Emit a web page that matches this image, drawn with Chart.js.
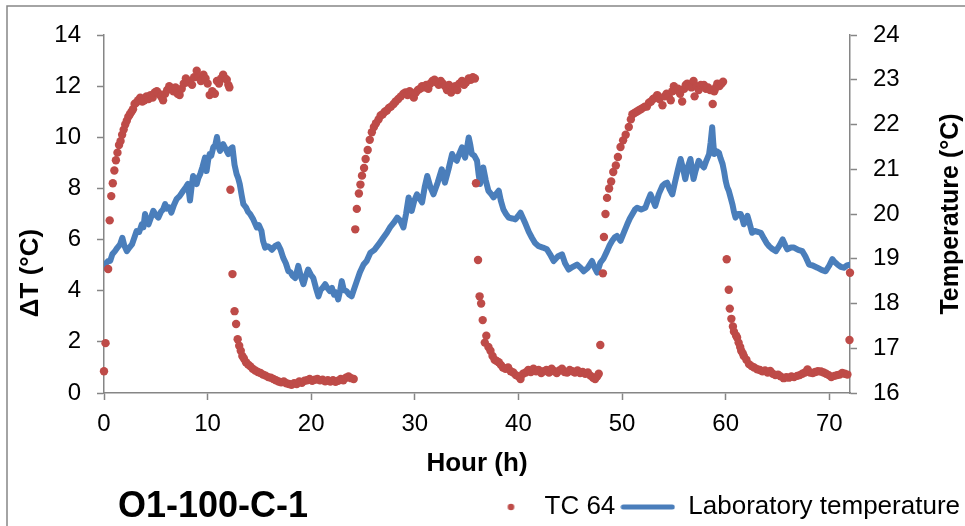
<!DOCTYPE html>
<html>
<head>
<meta charset="utf-8">
<script src="https://cdn.jsdelivr.net/npm/chart.js@4.4.1/dist/chart.umd.min.js"></script>
<style>
  html, body { margin: 0; padding: 0; background: #fff; }
  canvas { display: block; }
</style>
</head>
<body>
<canvas id="tcChart" width="965" height="526"></canvas>
<script>
// TC 64 readings [hour, dT] - one list per heating/cooling cycle
const tcCycle1 = [
  [0.0,0.85],[0.15,1.95],[0.4,4.85],[0.55,6.75],[0.7,7.7],[0.85,8.2],[1.0,8.7],[1.15,9.1],[1.3,9.4],[1.45,9.7],
  [1.6,9.85],[1.75,10.1],[1.9,10.3],[2.05,10.5],[2.2,10.65],[2.35,10.8],[2.5,10.9],[2.65,11.0],[2.8,11.1],[2.95,11.3],
  [3.1,11.35],[3.3,11.45],[3.5,11.55],[3.7,11.4],[3.9,11.45],[4.1,11.6],[4.3,11.5],[4.5,11.65],[4.7,11.55],[4.9,11.75],
  [5.1,11.8],[5.3,11.7],[5.5,11.6],[5.7,11.45],[5.9,11.7],[6.1,11.85],[6.3,12.0],[6.5,11.9],[6.7,11.8],[6.9,11.95],
  [7.1,11.7],[7.3,11.65],[7.5,11.9],[7.7,12.1],[7.9,12.3],[8.1,12.15],[8.3,12.2],[8.5,12.05],[8.7,12.35],[8.95,12.6],
  [9.15,12.35],[9.35,12.2],[9.6,12.45],[9.8,12.3],[10.0,12.1],[10.2,11.65],[10.45,11.8],[10.7,11.7],[10.9,12.2],[11.1,12.1],
  [11.3,12.3],[11.5,12.45],[11.7,12.3],[11.85,12.25],[12.0,12.05],[12.1,11.95],
  [12.2,7.95],[12.4,4.65],[12.6,3.2],[12.75,2.7],[12.9,2.1],[13.05,1.85],[13.2,1.65],[13.35,1.45],[13.5,1.35],[13.7,1.2],
  [13.9,1.12],[14.1,1.05],[14.35,0.95],[14.6,0.88],[14.85,0.82],[15.1,0.78],[15.35,0.72],[15.6,0.68],[15.85,0.62],[16.1,0.6],
  [16.35,0.55],[16.6,0.5],[16.85,0.45],[17.1,0.42],[17.35,0.45],[17.6,0.38],[17.85,0.35],[18.1,0.32],[18.35,0.38],[18.6,0.35],
  [18.85,0.45],[19.1,0.4],[19.35,0.48],[19.6,0.5],[19.85,0.55],[20.1,0.48],[20.35,0.52],[20.6,0.55],[20.85,0.5],[21.1,0.52],
  [21.35,0.46],[21.6,0.5],[21.85,0.45],[22.1,0.5],[22.35,0.44],[22.6,0.48],[22.85,0.55],[23.1,0.5],[23.35,0.6],[23.6,0.65],
  [23.85,0.58],[24.1,0.55]
];
const tcCycle2 = [
  [24.25,6.4],[24.4,7.2],[24.6,7.8],[24.75,8.15],[24.9,8.5],[25.1,8.8],[25.25,9.15],[25.45,9.5],[25.65,9.9],[25.85,10.2],
  [26.05,10.4],[26.25,10.55],[26.5,10.7],[26.7,10.85],[26.9,10.9],[27.1,11.0],[27.3,11.05],[27.5,11.15],[27.7,11.2],[27.95,11.3],
  [28.15,11.4],[28.4,11.5],[28.65,11.6],[28.9,11.7],[29.1,11.75],[29.3,11.65],[29.5,11.8],[29.7,11.7],[29.9,11.55],[30.1,11.75],
  [30.3,11.85],[30.5,11.9],[30.7,12.0],[30.9,11.95],[31.1,12.05],[31.3,11.9],[31.5,12.1],[31.7,12.2],[31.9,12.25],[32.1,12.15],
  [32.3,12.05],[32.5,12.2],[32.7,12.1],[32.9,12.0],[33.1,11.85],[33.3,12.05],[33.5,11.75],[33.7,11.9],[33.9,12.0],[34.1,11.85],
  [34.3,12.1],[34.55,12.2],[34.75,12.05],[34.95,12.15],[35.2,12.3],[35.4,12.25],[35.6,12.35],[35.8,12.3],
  [35.9,8.2],[36.1,5.2],[36.25,3.78],[36.4,3.5],[36.55,2.85],[36.75,1.97],[36.9,2.24],[37.1,1.8],[37.3,1.65],[37.5,1.45],
  [37.7,1.3],[37.9,1.25],[38.1,1.2],[38.3,1.1],[38.5,1.0],[38.75,0.95],[39.0,1.0],[39.25,0.85],[39.5,0.8],[39.75,0.7],
  [40.0,0.65],[40.2,0.55],[40.45,0.75],[40.7,0.8],[40.95,0.9],[41.2,0.82],[41.45,0.95],[41.7,0.85],[41.95,0.9],[42.2,0.78],
  [42.45,0.85],[42.7,0.9],[42.95,0.8],[43.2,0.95],[43.45,0.85],[43.7,0.78],[43.95,0.88],[44.2,0.95],[44.45,0.82],[44.7,0.8],
  [44.95,0.9],[45.2,0.85],[45.45,0.8],[45.7,0.88],[45.95,0.78],[46.2,0.82],[46.45,0.75],[46.7,0.8],[46.95,0.68],[47.2,0.6],
  [47.4,0.55],[47.6,0.65],[47.75,0.75],[47.9,1.88]
];
const tcCycle3 = [
  [48.15,4.68],[48.25,6.1],[48.4,7.0],[48.55,7.63],[48.75,8.0],[48.95,8.27],[49.15,8.64],[49.4,8.9],[49.6,9.23],[49.85,9.62],
  [50.1,9.88],[50.35,10.1],[50.65,10.4],[50.85,10.7],[51.0,10.9],[51.2,10.95],[51.4,11.0],[51.6,11.05],[51.8,11.1],[52.0,11.15],
  [52.2,11.2],[52.4,11.2],[52.6,11.35],[52.8,11.4],[53.0,11.5],[53.2,11.55],[53.4,11.65],[53.6,11.5],[53.9,11.25],[54.1,11.6],
  [54.3,11.7],[54.5,11.6],[54.7,11.45],[54.85,11.8],[55.0,12.0],[55.2,11.85],[55.4,11.9],[55.6,11.7],[55.8,11.4],[56.0,11.9],
  [56.15,12.05],[56.3,12.1],[56.5,12.0],[56.7,11.95],[56.9,12.2],[57.0,11.6],[57.2,12.0],[57.4,11.85],[57.6,12.05],[57.9,12.05],
  [58.1,11.9],[58.3,11.95],[58.5,11.85],[58.75,11.3],[58.9,11.8],[59.05,11.95],[59.2,12.1],[59.4,12.0],[59.6,12.1],[59.75,12.17],
  [60.1,5.23],[60.3,4.04],[60.4,3.3],[60.55,2.9],[60.7,2.6],[60.8,2.4],[61.0,2.25],[61.1,2.17],[61.25,1.97],[61.4,1.8],
  [61.5,1.65],[61.65,1.55],[61.75,1.45],[62.0,1.3],[62.25,1.13],[62.5,1.05],[62.75,1.0],[63.05,0.93],[63.3,0.9],[63.55,0.85],
  [63.8,0.88],[64.05,0.8],[64.3,0.86],[64.55,0.75],[64.8,0.7],[65.05,0.72],[65.3,0.65],[65.6,0.58],[65.85,0.62],[66.1,0.6],
  [66.35,0.65],[66.6,0.62],[66.9,0.67],[67.15,0.7],[67.4,0.75],[67.65,0.8],[67.9,0.92],[68.15,0.8],[68.4,0.78],[68.65,0.82],
  [68.9,0.85],[69.2,0.84],[69.45,0.8],[69.7,0.75],[69.95,0.7],[70.2,0.62],[70.5,0.67],[70.75,0.7],[71.0,0.72],[71.25,0.78],
  [71.5,0.75],[71.75,0.72],[71.95,2.07],[72.0,4.7]
];

// laboratory temperature [hour, degC] - one list per day
const labDay1 = [
  [0.0,18.8],[0.2,18.9],[0.4,18.95],[0.6,18.95],[0.8,19.1],[1.06,19.17],[1.3,19.25],[1.55,19.32],[1.77,19.47],[1.95,19.3],
  [2.2,19.17],[2.45,19.25],[2.7,19.32],[2.9,19.45],[3.15,19.62],[3.4,19.6],[3.65,19.77],[3.8,19.7],[3.96,20.0],[4.1,19.85],
  [4.3,19.77],[4.5,19.9],[4.76,20.07],[5.0,19.98],[5.25,19.92],[5.5,20.05],[5.7,20.1],[5.9,20.22],[6.1,20.12],[6.3,20.15],
  [6.5,20.03],[6.75,20.2],[7.0,20.33],[7.3,20.4],[7.65,20.52],[7.9,20.6],[8.1,20.67],[8.3,20.3],[8.45,20.6],[8.6,20.85],
  [8.8,20.75],[8.95,20.67],[9.1,20.8],[9.3,20.9],[9.5,21.05],[9.75,21.26],[9.9,20.96],[10.05,21.2],[10.2,21.34],[10.35,21.3],
  [10.55,21.49],[10.75,21.55],[10.9,21.72],[11.05,21.5],[11.2,21.41],[11.35,21.5],[11.5,21.56],[11.75,21.45],[12.0,21.34],[12.2,21.45],
  [12.4,21.49],[12.6,21.1],[12.8,20.89],[12.95,20.8],[13.1,20.67],[13.3,20.4],[13.45,20.22],[13.7,20.15],[13.9,20.05],[14.1,20.0],
  [14.4,19.88],[14.75,19.7],[14.95,19.75],[15.2,19.62],[15.35,19.4],[15.55,19.25],[15.8,19.28],[16.0,19.25],[16.2,19.2],[16.5,19.28],
  [16.8,19.32],[17.05,19.2],[17.3,19.02],[17.55,18.9],[17.8,18.72],[18.0,18.7],[18.2,18.62],[18.45,18.57],[18.6,18.7],[18.75,18.84],
  [19.0,18.6],[19.25,18.43],[19.45,18.6],[19.7,18.76],[19.95,18.65],[20.2,18.57],[20.45,18.35],[20.7,18.16],[20.9,18.3],[21.1,18.35],
  [21.35,18.43],[21.55,18.35],[21.8,18.28],[22.0,18.35],[22.2,18.2],[22.4,18.25],[22.6,18.09],[22.8,18.3],[22.95,18.5],[23.15,18.3],
  [23.4,18.28],[23.65,18.2],[23.9,18.16],[24.1,18.3]
];
const labDay2 = [
  [24.4,18.5],[24.7,18.7],[25.05,18.87],[25.35,18.95],[25.7,19.13],[26.1,19.2],[26.5,19.32],[26.9,19.45],[27.3,19.58],[27.6,19.7],
  [27.95,19.8],[28.3,19.92],[28.6,19.85],[28.9,19.7],[29.15,20.0],[29.4,20.37],[29.55,20.2],[29.7,20.07],[29.95,20.3],[30.2,20.44],
  [30.45,20.35],[30.7,20.26],[30.95,20.6],[31.2,20.85],[31.5,20.6],[31.8,20.44],[32.2,20.7],[32.6,21.0],[32.75,20.85],[32.9,20.7],
  [33.25,21.0],[33.6,21.34],[33.8,21.25],[34.05,21.19],[34.3,21.35],[34.55,21.49],[34.7,21.35],[34.85,21.26],[35.05,21.5],[35.2,21.71],
  [35.35,21.55],[35.5,21.34],[35.75,21.3],[36.0,21.19],[36.15,20.9],[36.3,20.67],[36.45,20.85],[36.6,21.04],[36.85,20.75],[37.1,20.52],
  [37.35,20.45],[37.6,20.37],[37.85,20.45],[38.1,20.52],[38.3,20.3],[38.55,20.1],[38.8,20.0],[39.05,19.92],[39.4,19.9],[39.7,19.88],
  [39.95,19.95],[40.2,20.03],[40.45,19.9],[40.7,19.77],[41.0,19.6],[41.3,19.47],[41.6,19.35],[41.95,19.28],[42.35,19.25],[42.75,19.21],
  [43.05,19.1],[43.4,18.95],[43.8,19.05],[44.2,19.1],[44.5,18.9],[44.85,18.76],[45.25,18.82],[45.65,18.87],[46.0,18.8],[46.3,18.72],
  [46.7,18.8],[47.1,18.95],[47.35,18.8],[47.6,18.69],[47.9,18.91]
];
const labDay3 = [
  [48.2,19.0],[48.55,19.17],[48.8,19.3],[49.05,19.4],[49.3,19.48],[49.5,19.51],[49.7,19.45],[49.85,19.4],[50.2,19.6],[50.5,19.77],
  [50.75,19.9],[51.0,20.0],[51.25,20.1],[51.45,20.14],[51.85,20.1],[52.25,20.14],[52.5,20.3],[52.75,20.44],[53.0,20.3],[53.2,20.18],
  [53.55,20.45],[53.9,20.63],[54.15,20.68],[54.35,20.7],[54.6,20.55],[54.85,20.44],[55.1,20.7],[55.4,21.0],[55.65,21.23],[55.9,21.0],
  [56.1,20.78],[56.35,21.05],[56.6,21.23],[56.9,20.78],[57.1,20.97],[57.4,21.19],[57.65,21.1],[57.9,21.04],[58.15,21.2],[58.4,21.34],
  [58.55,21.6],[58.7,21.94],[58.8,21.6],[58.9,21.34],[59.15,21.4],[59.35,21.37],[59.5,21.25],[59.7,21.12],[59.85,20.95],[60.0,20.74],
  [60.15,20.6],[60.3,20.52],[60.5,20.35],[60.65,20.22],[60.8,20.05],[60.95,19.92],[61.2,20.0],[61.45,20.0],[61.6,19.9],[61.75,19.77],
  [61.9,19.85],[62.1,19.96],[62.3,19.8],[62.55,19.58],[62.8,19.62],[63.1,19.6],[63.4,19.58],[63.7,19.45],[63.95,19.35],[64.2,19.28],
  [64.5,19.22],[64.85,19.17],[65.2,19.3],[65.5,19.43],[65.75,19.3],[65.95,19.21],[66.3,19.25],[66.6,19.25],[67.0,19.2],[67.4,19.17],
  [67.7,19.05],[68.05,18.87],[68.4,18.85],[68.85,18.8],[69.25,18.75],[69.65,18.72],[70.0,18.85],[70.3,18.99],[70.55,18.92],[70.8,18.87],
  [71.1,18.82],[71.4,18.8],[71.7,18.85],[72.0,18.87]
];

const seriesNames = ["TC 64", "Laboratory temperature"];
const chartTitle = "O1-100-C-1";
const xTitle = "Hour (h)";
const yLeftTitle = "ΔT (°C)";
const yRightTitle = "Temperature (°C)";

const RED = "#be4b48";
const BLUE = "#4a7ebb";
const AXIS = "#868686";
const FONT = "'Liberation Sans', Arial, sans-serif";

Chart.defaults.font.family = FONT;
Chart.defaults.color = "#000";

const toXY = pairs => pairs.map(([x, y]) => ({ x, y }));

// legend markers: small dot and a thick line segment
function legendDot() {
    const c = document.createElement("canvas");
    c.width = 55; c.height = 10;
    const g = c.getContext("2d");
    g.fillStyle = RED;
    g.beginPath();
    g.arc(34.5, 5, 3.3, 0, Math.PI * 2);
    g.fill();
    return c;
}
function legendLine() {
    const c = document.createElement("canvas");
    c.width = 55; c.height = 10;
    const g = c.getContext("2d");
    g.strokeStyle = BLUE;
    g.lineWidth = 5;
    g.lineCap = "round";
    g.beginPath();
    g.moveTo(3, 5);
    g.lineTo(52, 5);
    g.stroke();
    return c;
}
const markers = [legendDot(), legendLine()];

// frame, chart name and the two vertical axis titles
const decor = {
    id: "decor",
    beforeDraw(chart) {
        const ctx = chart.ctx;
        ctx.save();
        ctx.fillStyle = "#fff";
        ctx.fillRect(0, 0, chart.width, chart.height);
        ctx.strokeStyle = AXIS;
        ctx.lineWidth = 1.5;
        ctx.beginPath();
        ctx.moveTo(7, chart.height);
        ctx.lineTo(7, 6);
        ctx.lineTo(chart.width, 6);
        ctx.stroke();
        ctx.restore();
    },
    afterDraw(chart) {
        const ctx = chart.ctx;
        const a = chart.chartArea;
        ctx.save();
        ctx.fillStyle = "#000";
        ctx.textBaseline = "middle";
        ctx.textAlign = "left";
        ctx.font = "bold 36px " + FONT;
        ctx.fillText(chartTitle, 118, 507);

        ctx.textAlign = "center";
        ctx.font = "bold 26px " + FONT;
        ctx.translate(31, 273);
        ctx.rotate(-Math.PI / 2);
        ctx.fillText(yLeftTitle, 0, 0);
        ctx.restore();

        ctx.save();
        ctx.fillStyle = "#000";
        ctx.textBaseline = "middle";
        ctx.textAlign = "center";
        ctx.font = "bold 25px " + FONT;
        ctx.translate(951, (a.top + a.bottom) / 2);
        ctx.rotate(-Math.PI / 2);
        ctx.fillText(yRightTitle, 0, 0);
        ctx.restore();
    }
};

const tickFont = { size: 24 };

new Chart(document.getElementById("tcChart"), {
    data: {
        datasets: [
            {
                type: "scatter",
                label: seriesNames[0],
                data: toXY([...tcCycle1, ...tcCycle2, ...tcCycle3]),
                yAxisID: "y",
                backgroundColor: RED,
                pointBackgroundColor: RED,
                pointBorderWidth: 0,
                pointRadius: 4.2,
                pointHoverRadius: 4.2,
                clip: false,
                order: 0
            },
            {
                type: "line",
                label: seriesNames[1],
                data: toXY([...labDay1, ...labDay2, ...labDay3]),
                yAxisID: "y2",
                borderColor: BLUE,
                backgroundColor: BLUE,
                borderWidth: 6,
                borderJoinStyle: "round",
                borderCapStyle: "round",
                pointRadius: 0,
                tension: 0,
                order: 1
            }
        ]
    },
    options: {
        responsive: false,
        animation: false,
        events: [],
        layout: { padding: { top: 35, left: 0, right: 0, bottom: -4 } },
        plugins: {
            tooltip: { enabled: false },
            legend: {
                position: "bottom",
                align: "end",
                labels: {
                    usePointStyle: true,
                    pointStyleWidth: 55,
                    padding: 5,
                    color: "#000",
                    font: { size: 26 },
                    generateLabels(chart) {
                        const items = Chart.defaults.plugins.legend.labels.generateLabels(chart);
                        items.forEach(it => { it.pointStyle = markers[it.datasetIndex]; });
                        return items;
                    }
                }
            }
        },
        scales: {
            x: {
                type: "linear",
                position: "bottom",
                min: 0,
                max: 72,
                ticks: { stepSize: 10, includeBounds: false, font: tickFont, padding: 10, maxRotation: 0 },
                grid: { drawOnChartArea: false, tickLength: 7, color: AXIS, tickWidth: 1.5 },
                border: { color: AXIS, width: 1.5 },
                title: { display: true, text: xTitle, font: { size: 26, weight: "bold" }, padding: { top: 0, bottom: 10 } },
                afterFit(scale) { scale.height = 96; }
            },
            y: {
                position: "left",
                min: 0,
                max: 14,
                ticks: { stepSize: 2, font: tickFont, padding: 16 },
                grid: { drawOnChartArea: false, tickLength: 7, color: AXIS, tickWidth: 1.5 },
                border: { color: AXIS, width: 1.5 },
                afterFit(scale) { scale.width = 104; }
            },
            y2: {
                position: "right",
                min: 16,
                max: 24,
                ticks: { stepSize: 1, font: tickFont, padding: 16 },
                grid: { drawOnChartArea: false, tickLength: 7, color: AXIS, tickWidth: 1.5 },
                border: { color: AXIS, width: 1.5 },
                afterFit(scale) { scale.width = 115; }
            }
        }
    },
    plugins: [decor]
});
</script>
</body>
</html>
